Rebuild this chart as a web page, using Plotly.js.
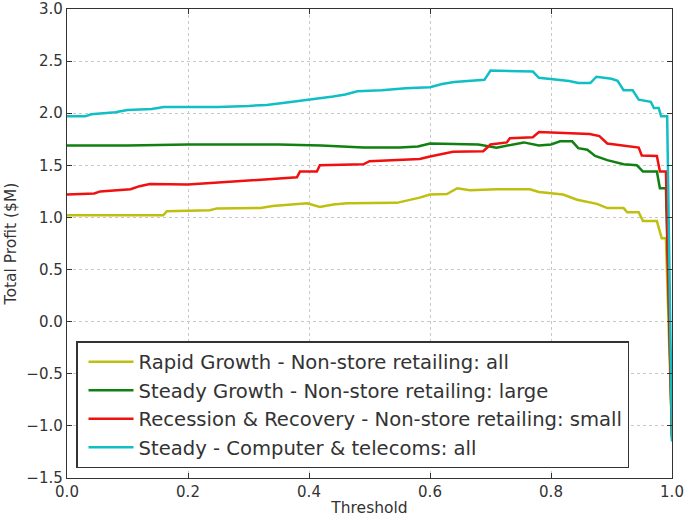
<!DOCTYPE html>
<html>
<head>
<meta charset="utf-8">
<script src="https://cdn.plot.ly/plotly-3.0.1.min.js"></script>
<style>
body{margin:0;background:#fff}
#chart{width:685px;height:517px}
</style>
</head>
<body>
<div id="chart"></div>
<script>

/* series */

const names = [
"Rapid Growth - Non-store retailing: all",
"Steady Growth - Non-store retailing: large",
"Recession & Recovery - Non-store retailing: small",
"Steady - Computer & telecoms: all"
]

const rapidX = [0, 0.159, 0.165, 0.236, 0.248, 0.32, 0.34, 0.374, 0.397, 0.418, 0.44, 0.463, 0.545, 0.583, 0.60, 0.628, 0.645, 0.666, 0.71, 0.765, 0.78, 0.82, 0.843, 0.876, 0.893, 0.92, 0.926, 0.945, 0.952, 0.975, 0.983, 0.99, 1.0]
const rapidY = [1.02, 1.02, 1.06, 1.07, 1.087, 1.09, 1.11, 1.125, 1.135, 1.10, 1.125, 1.135, 1.14, 1.19, 1.22, 1.225, 1.28, 1.26, 1.27, 1.27, 1.245, 1.22, 1.17, 1.13, 1.09, 1.09, 1.05, 1.05, 0.965, 0.965, 0.80, 0.80, -1.1]

const steadyGX = [0, 0.1, 0.2, 0.3, 0.35, 0.42, 0.49, 0.55, 0.58, 0.60, 0.65, 0.68, 0.71, 0.74, 0.755, 0.78, 0.80, 0.815, 0.835, 0.845, 0.86, 0.873, 0.893, 0.92, 0.942, 0.952, 0.975, 0.98, 0.99, 1.0]
const steadyGY = [1.69, 1.69, 1.70, 1.70, 1.70, 1.69, 1.67, 1.67, 1.68, 1.71, 1.70, 1.70, 1.67, 1.70, 1.72, 1.69, 1.70, 1.73, 1.73, 1.665, 1.65, 1.59, 1.55, 1.51, 1.50, 1.44, 1.44, 1.28, 1.28, -1.1]

const recessX = [0, 0.045, 0.055, 0.105, 0.12, 0.137, 0.2, 0.264, 0.33, 0.38, 0.385, 0.413, 0.418, 0.49, 0.50, 0.583, 0.60, 0.638, 0.688, 0.70, 0.727, 0.732, 0.77, 0.78, 0.864, 0.88, 0.893, 0.926, 0.945, 0.95, 0.975, 0.98, 0.99, 1.0]
const recessY = [1.22, 1.23, 1.25, 1.27, 1.30, 1.32, 1.315, 1.34, 1.37, 1.385, 1.44, 1.44, 1.50, 1.51, 1.54, 1.56, 1.585, 1.63, 1.635, 1.70, 1.72, 1.76, 1.77, 1.82, 1.80, 1.78, 1.71, 1.68, 1.67, 1.595, 1.59, 1.44, 1.44, -1.12]

const compX = [0, 0.03, 0.04, 0.06, 0.08, 0.1, 0.14, 0.16, 0.25, 0.3, 0.33, 0.36, 0.39, 0.42, 0.44, 0.46, 0.48, 0.52, 0.56, 0.6, 0.62, 0.64, 0.69, 0.70, 0.77, 0.78, 0.8, 0.83, 0.845, 0.865, 0.875, 0.9, 0.91, 0.92, 0.935, 0.945, 0.965, 0.97, 0.978, 0.982, 0.992, 1.0]
const compY = [1.97, 1.97, 1.99, 2.0, 2.01, 2.03, 2.04, 2.06, 2.06, 2.07, 2.08, 2.1, 2.12, 2.14, 2.16, 2.18, 2.21, 2.22, 2.24, 2.25, 2.28, 2.30, 2.32, 2.41, 2.40, 2.34, 2.33, 2.31, 2.29, 2.29, 2.35, 2.33, 2.31, 2.22, 2.22, 2.13, 2.11, 2.05, 2.05, 1.97, 1.97, -1.15]

const colors = ["#bfbf10", "#108010", "#f01010", "#10bfc4"]

const xs = [rapidX, steadyGX, recessX, compX]
const ys = [rapidY, steadyGY, recessY, compY]

const traces = names.map((n,i)=>({
x:xs[i],
y:ys[i],
name:n,
mode:"lines",
type:"scatter",
legendgroup:"g"+i,
line:{color:colors[i],width:2.5}
}))

const axisStyle = {
showline:true,
linecolor:"#333",
linewidth:1.2,
mirror:"ticks",
ticks:"inside",
ticklen:5,
tickcolor:"#333",
showgrid:true,
gridcolor:"#c8c8c8",
griddash:"dot",
gridwidth:1,
zeroline:false,
tickformat:".1f",
ticklabeloverflow:"allow",
tickfont:{family:"DejaVu Sans",size:15,color:"#333"}
}

const layout = {
width:685,
height:517,
margin:{l:67,r:13,t:9,b:39},
paper_bgcolor:"#fff",
plot_bgcolor:"#fff",
showlegend:true,
xaxis:Object.assign({},axisStyle,{
range:[0,1],
dtick:0.2,
tick0:0,
title:{text:"Threshold",font:{family:"DejaVu Sans",size:15.5,color:"#333"},standoff:2}
}),
yaxis:Object.assign({},axisStyle,{
range:[-1.5,3],
dtick:0.5,
tick0:0,
title:{text:"Total Profit ($M)",font:{family:"DejaVu Sans",size:15.5,color:"#333"},standoff:6}
}),
legend:{
x:0.0149,
y:0.0212,
xanchor:"left",
yanchor:"bottom",
bgcolor:"#fff",
bordercolor:"#333",
borderwidth:1.5,
traceorder:"grouped",
tracegroupgap:0,
indentation:6,
itemwidth:45,
font:{family:"DejaVu Sans",size:19.6,color:"#333"}
}
}

Plotly.newPlot("chart",traces,layout,{displayModeBar:false,staticPlot:true})

</script>
</body>
</html>
